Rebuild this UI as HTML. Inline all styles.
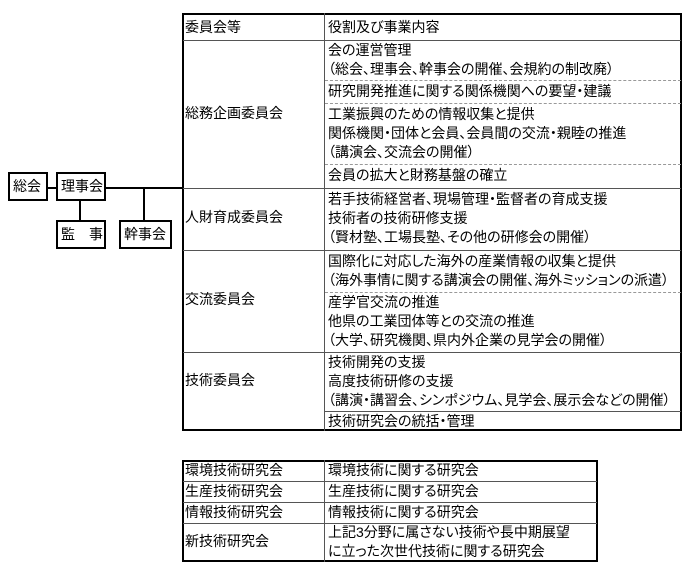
<!DOCTYPE html>
<html><head><meta charset="utf-8"><style>
body{margin:0;width:700px;height:572px;background:#fff;position:relative;overflow:hidden;font-family:"Liberation Sans","Noto Sans CJK JP",sans-serif;font-size:14px;color:#000;font-feature-settings:"palt"}
div{position:absolute}
.t{white-space:nowrap;line-height:19px}
.h{height:0;border-top:1px solid #555}
.d{height:0;border-top:1px dashed #999}
.box{border:2px solid #000;box-sizing:border-box;line-height:24px;padding-left:3px;font-size:14px}
.ln{background:#000}
</style></head><body>
<!-- left org -->
<div class="box" style="left:8px;top:172px;width:40px;height:29px">総会</div>
<div class="box" style="left:56px;top:172px;width:50px;height:29px">理事会</div>
<div class="box" style="left:56px;top:220px;width:50px;height:29px">監　事</div>
<div class="box" style="left:119px;top:220px;width:53px;height:29px">幹事会</div>
<div class="ln" style="left:47px;top:187px;width:10px;height:2px"></div>
<div class="ln" style="left:105px;top:187px;width:78px;height:2px"></div>
<div class="ln" style="left:79px;top:200px;width:2px;height:21px"></div>
<div class="ln" style="left:143px;top:188px;width:2px;height:33px"></div>
<!-- main table -->
<div style="left:182px;top:13px;width:500px;height:418px;border:2px solid #000;box-sizing:border-box"></div>
<div style="left:324px;top:13px;width:1px;height:418px;background:#555"></div>
<div class="h" style="left:183px;top:40px;width:498px"></div>
<div class="d" style="left:325px;top:80px;width:356px"></div>
<div class="d" style="left:325px;top:103px;width:356px"></div>
<div class="d" style="left:325px;top:164px;width:356px"></div>
<div class="h" style="left:183px;top:188px;width:498px"></div>
<div class="h" style="left:183px;top:250px;width:498px"></div>
<div class="d" style="left:325px;top:292px;width:356px"></div>
<div class="h" style="left:183px;top:352px;width:498px"></div>
<div class="h" style="left:325px;top:411px;width:356px"></div>
<div class="t" style="left:185px;top:18px">委員会等</div>
<div class="t" style="left:185px;top:104px">総務企画委員会</div>
<div class="t" style="left:185px;top:208px">人財育成委員会</div>
<div class="t" style="left:185px;top:290px">交流委員会</div>
<div class="t" style="left:185px;top:371px">技術委員会</div>
<div class="t" style="left:328px;top:18px">役割及び事業内容</div>
<div class="t" style="left:328px;top:41px">会の運営管理<br>（総会、理事会、幹事会の開催、会規約の制改廃）</div>
<div class="t" style="left:328px;top:82px">研究開発推進に関する関係機関への要望・建議</div>
<div class="t" style="left:328px;top:105px">工業振興のための情報収集と提供<br>関係機関・団体と会員、会員間の交流・親睦の推進<br>（講演会、交流会の開催）</div>
<div class="t" style="left:328px;top:166px">会員の拡大と財務基盤の確立</div>
<div class="t" style="left:328px;top:190px">若手技術経営者、現場管理・監督者の育成支援<br>技術者の技術研修支援<br>（賢材塾、工場長塾、その他の研修会の開催）</div>
<div class="t" style="left:328px;top:252px">国際化に対応した海外の産業情報の収集と提供<br>（海外事情に関する講演会の開催、海外ミッションの派遣）</div>
<div class="t" style="left:328px;top:293px">産学官交流の推進<br>他県の工業団体等との交流の推進<br>（大学、研究機関、県内外企業の見学会の開催）</div>
<div class="t" style="left:328px;top:353px">技術開発の支援<br>高度技術研修の支援<br>（講演・講習会、シンポジウム、見学会、展示会などの開催）</div>
<div class="t" style="left:328px;top:412px">技術研究会の統括・管理</div>
<!-- bottom table -->
<div style="left:182px;top:460px;width:416px;height:102px;border:2px solid #000;box-sizing:border-box"></div>
<div style="left:324px;top:460px;width:1px;height:102px;background:#555"></div>
<div class="h" style="left:183px;top:481px;width:414px"></div>
<div class="h" style="left:183px;top:502px;width:414px"></div>
<div class="h" style="left:183px;top:523px;width:414px"></div>
<div class="t" style="left:185px;top:461px">環境技術研究会</div>
<div class="t" style="left:185px;top:482px">生産技術研究会</div>
<div class="t" style="left:185px;top:503px">情報技術研究会</div>
<div class="t" style="left:185px;top:532px">新技術研究会</div>
<div class="t" style="left:328px;top:461px">環境技術に関する研究会</div>
<div class="t" style="left:328px;top:482px">生産技術に関する研究会</div>
<div class="t" style="left:328px;top:503px">情報技術に関する研究会</div>
<div class="t" style="left:328px;top:523px">上記3分野に属さない技術や長中期展望<br>に立った次世代技術に関する研究会</div>
</body></html>
